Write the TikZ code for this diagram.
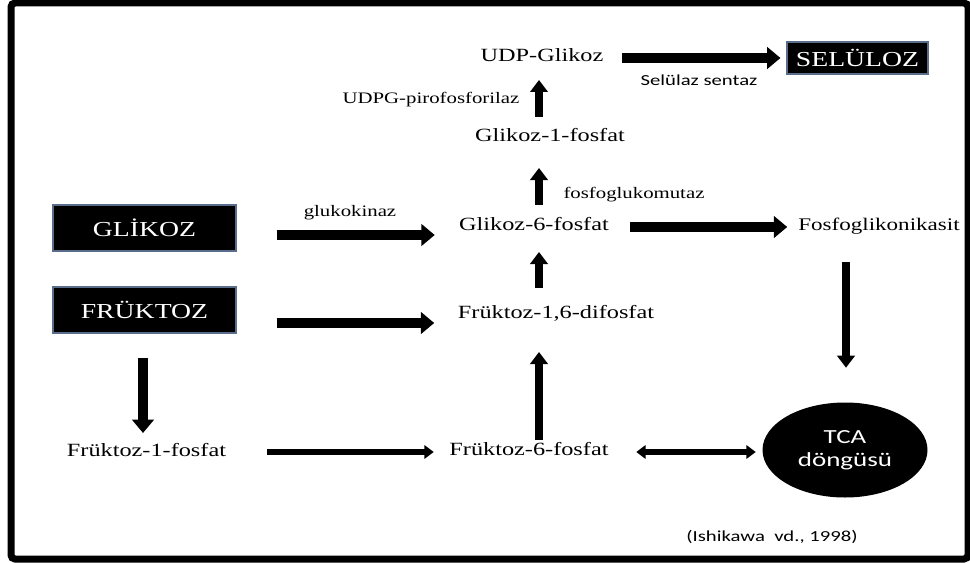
\documentclass[tikz,border=0pt]{standalone}
\usepackage{fontspec}
\setmainfont{Liberation Serif}[FakeStretch=1.3]
\newfontfamily\calfont{Carlito}[FakeStretch=1.35]
\usetikzlibrary{arrows.meta,calc,shapes.geometric}
\begin{document}
\begin{tikzpicture}[x=0.75pt,y=-0.75pt,
  lbl/.style={inner xsep=0pt, inner ysep=0pt, text height=0.7em, text depth=0.2em, font=\fontsize{14}{16}\selectfont},
  enz/.style={inner sep=0pt, font=\fontsize{12}{14}\selectfont},
  sans/.style={inner sep=0pt, font=\calfont\fontsize{11.5}{13}\selectfont},
  blackbox/.style={fill=black, draw={rgb,255:red,90;green,110;blue,140}, line width=0.8pt, text=white, font=\fontsize{16}{18}\selectfont, inner sep=0pt},
  big/.style={line width=7.5pt, -{Triangle[length=10pt,width=16pt]}},
  vert/.style={line width=6.5pt, -{Triangle[length=9pt,width=13pt]}},
  thin/.style={line width=5pt, -{Triangle[length=7pt,width=10pt]}},
  thinboth/.style={line width=5pt, {Triangle[length=7pt,width=10pt]}-{Triangle[length=7pt,width=10pt]}},
]
\useasboundingbox (0,0) rectangle (970,563);
\draw[line width=5.25pt, rounded corners=3pt] (11,3) rectangle (968,559);

% nodes
\node[lbl, minimum width=95.25pt] (udp) at (542,58) {UDP-Glikoz};
\node[blackbox, minimum width=105.75pt, minimum height=24pt] (sel) at (857.5,58) {SELÜLOZ};
\node[sans] (selsent) at (699,80) {Selülaz sentaz};
\node[enz] (udpg) at (431,100) {UDPG-pirofosforilaz};
\node[lbl, minimum width=112.5pt] (g1p) at (550,138) {Glikoz-1-fosfat};
\node[enz] (fosm) at (634,195) {fosfoglukomutaz};
\node[lbl, minimum width=114pt] (g6p) at (534,227) {Glikoz-6-fosfat};
\node[lbl, minimum width=123.75pt, font=\fontsize{13.3}{16}\selectfont] (fos) at (879,227) {Fosfoglikonikasit};
\node[blackbox, minimum width=137.25pt, minimum height=34.5pt] (glk) at (144.5,228) {GLİKOZ};
\node[enz] (gkin) at (350,213) {glukokinaz};
\node[blackbox, minimum width=137.25pt, minimum height=34.5pt] (fru) at (144.5,310) {FRÜKTOZ};
\node[lbl, minimum width=147.75pt] (f16) at (556,315) {Früktoz-1,6-difosfat};
\node[lbl, minimum width=122.25pt] (f1p) at (146.5,453) {Früktoz-1-fosfat};
\node[lbl, minimum width=120pt] (f6p) at (529,452) {Früktoz-6-fosfat};
\node[ellipse, fill=black, inner sep=0pt, minimum width=123.75pt, minimum height=71.25pt,
      text=white, align=center, font=\calfont\fontsize{15}{17}\selectfont] (tca) at (845,450) {TCA\\döngüsü};
\node[sans] (cite) at (772,537) {(Ishikawa\ \ vd., 1998)};

% connectors
\draw[big] ($(udp.east)+(16,0)$) -- ($(sel.west)+(-6,0)$);
\draw[vert] ($(g1p.center)+(-11,-21)$) -- ($(udp.center)+(-3,22)$);
\draw[vert] ($(g6p.center)+(5,-22)$) -- ($(g1p.center)+(-11,30)$);
\draw[vert] ($(f16.center)+(-17,-27)$) -- ($(g6p.center)+(5,25)$);
\draw[vert] ($(f6p.center)+(10,-12)$) -- ($(f16.center)+(-17,37)$);
\draw[big] ($(glk.east)+(40,7)$) -- ($(g6p.west)+(-23,8)$);
\draw[big] ($(fru.east)+(40,13)$) -- ($(f16.west)+(-23,8)$);
\draw[big] ($(g6p.east)+(20,0)$) -- ($(fos.west)+(-9,0)$);
\draw[vert] ($(fos.center)+(-33,35)$) -- ($(tca.north)+(1,-34.5)$);
\draw[big] ($(fru.south)+(-1.5,24)$) -- ($(f1p.center)+(-3.5,-20)$);
\draw[thin] ($(f1p.east)+(39,-1)$) -- ($(f6p.west)+(-15,0)$);
\draw[thinboth] ($(f6p.east)+(27,0)$) -- ($(tca.west)+(-6.5,2)$);
\end{tikzpicture}
\end{document}
